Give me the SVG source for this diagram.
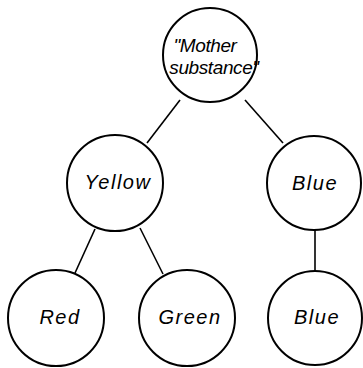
<svg xmlns="http://www.w3.org/2000/svg" width="363" height="368" viewBox="0 0 363 368">
  <style>
    .node circle { fill: #fff; stroke: #000; stroke-width: 2; }
    .node text { font-family: "Liberation Sans", Arial, sans-serif; font-style: italic; font-size: 20px; letter-spacing: 1.5px; fill: #000; text-anchor: middle; }
    .node text.small { font-size: 19px; letter-spacing: -0.4px; }
    #edges line { stroke: #000; stroke-width: 1.6; }
  </style>
  <rect width="363" height="368" fill="#fff"/>
  <g id="edges">
    <line x1="180" y1="100" x2="147" y2="143"/>
    <line x1="245" y1="100" x2="283" y2="143"/>
    <line x1="95" y1="229" x2="75" y2="273"/>
    <line x1="140" y1="228" x2="163" y2="274"/>
    <line x1="315" y1="230" x2="315" y2="270"/>
  </g>
  <g id="mother" class="node">
    <circle cx="210" cy="55" r="47"/>
    <text class="small" x="205" y="52">"Mother</text>
    <text class="small" x="214" y="74">substance"</text>
  </g>
  <g id="yellow" class="node">
    <circle cx="115" cy="183" r="48"/>
    <text x="118" y="189">Yellow</text>
  </g>
  <g id="blue-mid" class="node">
    <circle cx="314" cy="183" r="47"/>
    <text x="315" y="190">Blue</text>
  </g>
  <g id="red" class="node">
    <circle cx="56" cy="318" r="48"/>
    <text x="60" y="324">Red</text>
  </g>
  <g id="green" class="node">
    <circle cx="187" cy="318" r="48"/>
    <text x="190" y="324">Green</text>
  </g>
  <g id="blue-bottom" class="node">
    <circle cx="315" cy="318" r="47"/>
    <text x="317" y="324">Blue</text>
  </g>
</svg>
